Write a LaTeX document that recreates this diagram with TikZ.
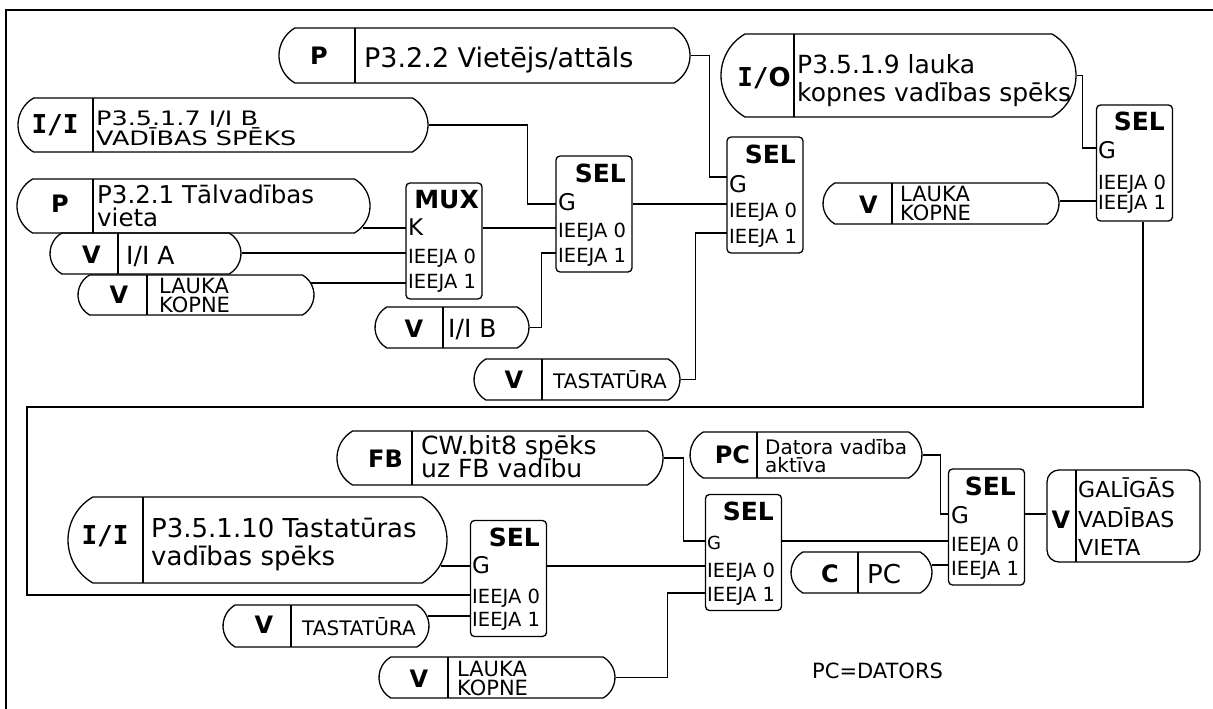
\documentclass[tikz,border=0pt]{standalone}
\usepackage{fontspec}
\setmainfont{DejaVu Sans}
\newfontfamily\monofam{DejaVu Sans Mono}
\usepackage{graphicx}
\usetikzlibrary{shapes.misc}
\newcommand{\fsz}[1]{\fontsize{#1}{#1}\selectfont}
\newcommand{\squash}[1]{\scalebox{1}[0.78]{#1}}

\begin{document}
\begin{tikzpicture}[x=1pt, y=-1pt,
  wire/.style={line width=1.3pt},
  srcbox/.style={draw, line width=1.3pt, rounded rectangle, rounded rectangle arc length=120, inner sep=0pt},
  selbox/.style={draw, line width=1.3pt, rounded corners=4pt, inner sep=0pt, minimum width=76pt, minimum height=116pt},
  tag/.style={anchor=base, inner sep=0pt, font=\bfseries\fsz{24}},
  monotag/.style={anchor=base, inner sep=0pt, font=\monofam\bfseries\fsz{26}},
  seltitle/.style={anchor=base east, inner sep=0pt, font=\bfseries\fsz{25}},
  txt/.style={anchor=base west, inner sep=0pt},
  port/.style={anchor=base west, inner sep=0pt, font=\fsz{19.5}}]
  \fill[white] (0,0) rectangle (1213,709);
  \useasboundingbox (0,0) rectangle (1213,709);
  \draw[line width=2pt] (6,709) -- (6,10) -- (1213,10);

  % source boxes with their divider
  \foreach \nm/\cx/\cy/\w/\h/\dx in {pvl/484.5/55.5/411/55/355, iib/223/125/410/54/93,
      tvv/193.5/206/353/54/93, iia/145.5/253.5/191/41/118, lk1/196/295/236/40/147,
      iibv/452/327.5/154/41/443, tst1/577/379.5/206/41/542, iof/898.5/75.5/355/83/794,
      lk2/941/203.5/236/41/892, fbb/500/458/326/54/412, tkb/257.5/540/379/86/143,
      tst2/326/626/206/42/291, lk3/497/677.5/236/41/448, pcb/806/455/232/46/757,
      cpc/861.5/572.5/141/41/858}{
    \node[srcbox, minimum width=\w, minimum height=\h] (\nm) at (\cx,\cy) {};
    \draw[wire] (\dx,\cy-\h/2) -- (\dx,\cy+\h/2);
  }
  \node[draw, line width=1.3pt, rounded corners=12pt, inner sep=0pt, minimum width=153, minimum height=92] (gvv) at (1123.5,516) {};
  \draw[wire] (1076,470) -- (1076,562);

  % tags
  \foreach \nm/\x/\y in {iia/91.5/263, lk1/119/303, iibv/414/337, tst1/514/388,
      lk2/868.5/213, tst2/264/633, lk3/419/687, gvv/1061/528}{
    \node[tag] (\nm-tag) at (\x,\y) {V};
  }
  \node[tag] (pvl-tag) at (319,65) {P};
  \node[tag] (tvv-tag) at (60,212) {P};
  \node[tag] (fbb-tag) at (385.5,467) {FB};
  \node[tag] (pcb-tag) at (732.5,463) {PC};
  \node[tag] (cpc-tag) at (830,582) {C};
  \node[monotag] (iib-tag) at (55,133) {I/I};
  \node[monotag] (tkb-tag) at (105,544) {I/I};
  \node[tag, font=\bfseries\fsz{26}] (iof-tag) at (764,86) {{\monofam I/}O};

  % texts
  \node[txt, font=\fsz{27}] (pvl-1) at (364,67) {P3.2.2 Vietējs/attāls};
  \node[txt, font=\fsz{25.5}] (iib-1) at (96,125) {\squash{P3.5.1.7 I/I B}};
  \node[txt, font=\fsz{25.5}] (iib-2) at (96,145) {\squash{VADĪBAS SPĒKS}};
  \node[txt, font=\fsz{24.5}] (tvv-1) at (97,203) {P3.2.1 Tālvadības};
  \node[txt, font=\fsz{24.5}] (tvv-2) at (97,226) {vieta};
  \node[txt, font=\fsz{25}] (iia-1) at (126,264) {I/I A};
  \node[txt, font=\fsz{21}] (lk1-1) at (159,293) {LAUKA};
  \node[txt, font=\fsz{21}] (lk1-2) at (159,312) {KOPNE};
  \node[txt, font=\fsz{25}] (iibv-1) at (448,337) {I/I B};
  \node[txt, font=\fsz{20}] (tst1-1) at (553,388) {TASTATŪRA};
  \node[txt, font=\fsz{25}] (iof-1) at (797,74) {P3.5.1.9 lauka};
  \node[txt, font=\fsz{25}] (iof-2) at (797,101) {kopnes vadības spēks};
  \node[txt, font=\fsz{21}] (lk2-1) at (900,201) {LAUKA};
  \node[txt, font=\fsz{21}] (lk2-2) at (900,220) {KOPNE};
  \node[txt, font=\fsz{25}] (fbb-1) at (421,454) {CW.bit8 spēks};
  \node[txt, font=\fsz{25}] (fbb-2) at (421,477) {uz FB vadību};
  \node[txt, font=\fsz{26}] (tkb-1) at (151,537) {P3.5.1.10 Tastatūras};
  \node[txt, font=\fsz{26}] (tkb-2) at (151,565) {vadības spēks};
  \node[txt, font=\fsz{20}] (tst2-1) at (302,635) {TASTATŪRA};
  \node[txt, font=\fsz{21}] (lk3-1) at (457,676) {LAUKA};
  \node[txt, font=\fsz{21}] (lk3-2) at (457,695) {KOPNE};
  \node[txt, font=\fsz{20}] (pcb-1) at (765,454) {Datora vadība};
  \node[txt, font=\fsz{20}] (pcb-2) at (765,472) {aktīva};
  \node[txt, font=\fsz{26}] (cpc-1) at (867,583) {PC};
  \node[txt, font=\fsz{22}] (gvv-1) at (1078,497) {GALĪGĀS};
  \node[txt, font=\fsz{22}] (gvv-2) at (1078,527) {VADĪBAS};
  \node[txt, font=\fsz{22}] (gvv-3) at (1078,555) {VIETA};
  \node[txt, font=\fsz{21}] (note) at (812,678) {PC=DATORS};

  % selector blocks
  \foreach \nm/\cx/\cy/\lx/\rx/\yt/\yg/\ya/\yb/\ttl/\glab in {
      mux/444/241/408/479/208/235/263/288/MUX/K,
      s1/594/214/558/626/182/210/237/262/SEL/G,
      s2/765/195/729/796/163/192/217/243/SEL/G,
      s3/1134.5/163/1098/1165/130/158/189/209/SEL/G,
      s4/508.5/578.5/472/540/546/573/603/626/SEL/G,
      s5/743.5/552.5/707/774/520/549/577/601/SEL/{\fsz{18}G},
      s6/986.5/527/951/1016/495/523/551/575/SEL/G}{
    \node[selbox] (\nm) at (\cx,\cy) {};
    \node[seltitle] (\nm-t) at (\rx,\yt) {\ttl};
    \node[txt, font=\fsz{23}] (\nm-g) at (\lx,\yg) {\glab};
    \node[port] (\nm-a) at (\lx,\ya) {IEEJA 0};
    \node[port] (\nm-b) at (\lx,\yb) {IEEJA 1};
  }

  % ports
  \coordinate (mk) at (406,228);   \coordinate (mi0) at (406,253);  \coordinate (mi1) at (406,283);
  \coordinate (s1g) at (556,204);  \coordinate (s1i0) at (556,228); \coordinate (s1i1) at (556,253);
  \coordinate (s2g) at (727,177);  \coordinate (s2i0) at (727,204); \coordinate (s2i1) at (727,233);
  \coordinate (s3g) at (1096,148); \coordinate (s3i1) at (1096,201);
  \coordinate (s4g) at (470,566);  \coordinate (s4i0) at (470,595); \coordinate (s4i1) at (470,616);
  \coordinate (s5g) at (705,541);  \coordinate (s5i0) at (705,566); \coordinate (s5i1) at (705,593);
  \coordinate (s6g) at (949,514);  \coordinate (s6i0) at (949,541); \coordinate (s6i1) at (949,565);
  \coordinate (loop) at (27,407);

  % upper wiring
  \draw[wire] (pvl.east) -- ++(19,0) |- (s2g);
  \draw[wire] (iib.east) -- ++(99,0) |- (s1g);
  \draw[wire] (mk) -- (mk -| tvv.-7.5);
  \draw[wire] (mi0) -- (mi0 -| iia.east);
  \draw[wire] (mi1) -- (mi1 -| lk1.6);
  \draw[wire] (mux.east |- mk) -- (s1i0);
  \draw[wire] (iibv.east) -- ++(12,0) |- (s1i1);
  \draw[wire] (s1.east |- s1g) -- (s2i0);
  \draw[wire] (tst1.east) -- ++(15,0) |- (s2i1);
  \draw[wire] (iof.east) -- ++(6,0) |- (s3g);
  \draw[wire] (s3i1) -- (s3i1 -| lk2.east);
  \draw[wire] ([xshift=8.5pt]s3.south) |- (loop) |- (s4i0);

  % lower wiring
  \draw[wire] (s4g) -- (s4g -| tkb.-8.1);
  \draw[wire] (s4i1) -- (s4i1 -| tst2.5.7);
  \draw[wire] (s4.east |- s4g) -- (s5i0);
  \draw[wire] (fbb.east) -- ++(20,0) |- (s5g);
  \draw[wire] (lk3.east) -- ++(52,0) |- (s5i1);
  \draw[wire] (pcb.east) -- ++(18,0) |- (s6g);
  \draw[wire] (s5.east |- s5g) -- (s6i0);
  \draw[wire] (s6i1) -- (s6i1 -| cpc.6.2);
  \draw[wire] (s6.east |- s6g) -- (s6g -| gvv.west);
\end{tikzpicture}
\end{document}
